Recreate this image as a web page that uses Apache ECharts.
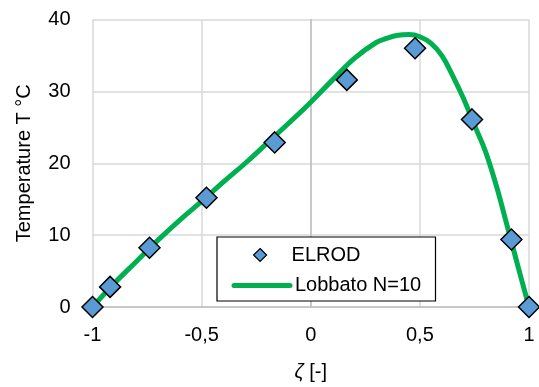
<!DOCTYPE html>
<html>
<head>
<meta charset="utf-8">
<script src="https://cdn.jsdelivr.net/npm/echarts@6/dist/echarts.min.js"></script>
<style>html,body{margin:0;padding:0;background:#fff}#c{width:539px;height:387px}</style>
</head>
<body>
<div id="c"></div>
<script>
var elrodX = [-1, -0.9195, -0.7388, -0.4779, -0.1653, 0.1653, 0.4779, 0.7388, 0.9195, 1];
var elrodY = [0, 2.8, 8.25, 15.2, 22.9, 31.6, 36.0, 26.1, 9.4, 0];
var lobX = [-1, -0.9, -0.8, -0.7, -0.6, -0.5, -0.4, -0.3, -0.2, -0.1, 0, 0.1, 0.2, 0.3, 0.35, 0.4, 0.45, 0.5, 0.55, 0.6, 0.65, 0.7, 0.75, 0.8, 0.85, 0.9, 0.95, 1];
var lobY = [0, 3.3, 6.3, 9.3, 12.1, 14.7, 17.4, 20.0, 22.8, 25.6, 28.5, 31.6, 34.6, 36.8, 37.4, 37.8, 37.9, 37.6, 36.7, 35.0, 32.2, 29.0, 25.3, 21.7, 16.9, 11.3, 5.6, 0];
var xTicks = [-1, -0.5, 0, 0.5, 1];
var yTicks = [0, 10, 20, 30, 40];

var FONT = 'Liberation Sans';
var chart = echarts.init(document.getElementById('c'), null, {renderer: 'canvas'});
chart.setOption({
  animation: false,
  backgroundColor: '#fff',
  textStyle: {fontFamily: FONT},
  grid: {left: 92.5, right: 10, top: 19.5, bottom: 80, containLabel: false},
  xAxis: {
    type: 'value', min: xTicks[0], max: xTicks[xTicks.length - 1], interval: 0.5,
    axisLine: {show: true, onZero: true, lineStyle: {color: '#bfbfbf', width: 1.5}},
    axisTick: {show: false},
    splitLine: {show: true, lineStyle: {color: '#d9d9d9', width: 1.5}},
    axisLabel: {color: '#000', fontSize: 20, fontFamily: FONT, margin: 18,
      formatter: function (v) { return String(v).replace('.', ','); }},
    name: '{i|ζ} [-]', nameLocation: 'middle', nameGap: 55,
    nameTextStyle: {color: '#000', fontSize: 20, fontFamily: FONT,
      rich: {i: {fontStyle: 'italic', fontSize: 20, fontFamily: FONT, color: '#000'}}}
  },
  yAxis: {
    type: 'value', min: yTicks[0], max: yTicks[yTicks.length - 1], interval: 10,
    axisLine: {show: true, onZero: true, lineStyle: {color: '#bfbfbf', width: 1.5}},
    axisTick: {show: false},
    splitLine: {show: true, lineStyle: {color: '#d9d9d9', width: 1.5}},
    axisLabel: {color: '#000', fontSize: 20, fontFamily: FONT, margin: 22},
    name: 'Temperature T °C', nameLocation: 'middle', nameGap: 58, nameRotate: 90,
    nameTextStyle: {color: '#000', fontSize: 20, fontFamily: FONT}
  },
  graphic: [{
    type: 'rect', z: 3, silent: true,
    shape: {x: 217, y: 237, width: 218.5, height: 64},
    style: {fill: '#fff', stroke: '#000', lineWidth: 1.2}
  }],
  legend: [
    {
      left: 253, top: 245, padding: 0, itemWidth: 13, itemHeight: 13, z: 5,
      textStyle: {color: '#000', fontSize: 20, fontFamily: FONT, padding: [0, 0, 0, 20]},
      data: [{name: 'ELROD', icon: 'diamond', itemStyle: {borderColor: '#000', borderWidth: 1.2}}]
    },
    {
      left: 231.5, top: 275.5, padding: 0, itemWidth: 56, itemHeight: 5, z: 5,
      textStyle: {color: '#000', fontSize: 20, fontFamily: FONT},
      data: [{name: 'Lobbato N=10', lineStyle: {width: 5, color: '#00b050', cap: 'round'}}]
    }
  ],
  series: [
    {
      name: 'Lobbato N=10', type: 'line', smooth: 0.4, symbol: 'none', z: 2,
      lineStyle: {color: '#00b050', width: 5, cap: 'round'}, itemStyle: {color: '#00b050'},
      data: lobX.map(function (x, i) { return [x, lobY[i]]; })
    },
    {
      name: 'ELROD', type: 'scatter', symbol: 'diamond', symbolSize: 21, z: 3,
      itemStyle: {color: '#5b9bd5', borderColor: '#000', borderWidth: 1.5, opacity: 1},
      data: elrodX.map(function (x, i) { return [x, elrodY[i]]; })
    }
  ]
});
</script>
</body>
</html>
